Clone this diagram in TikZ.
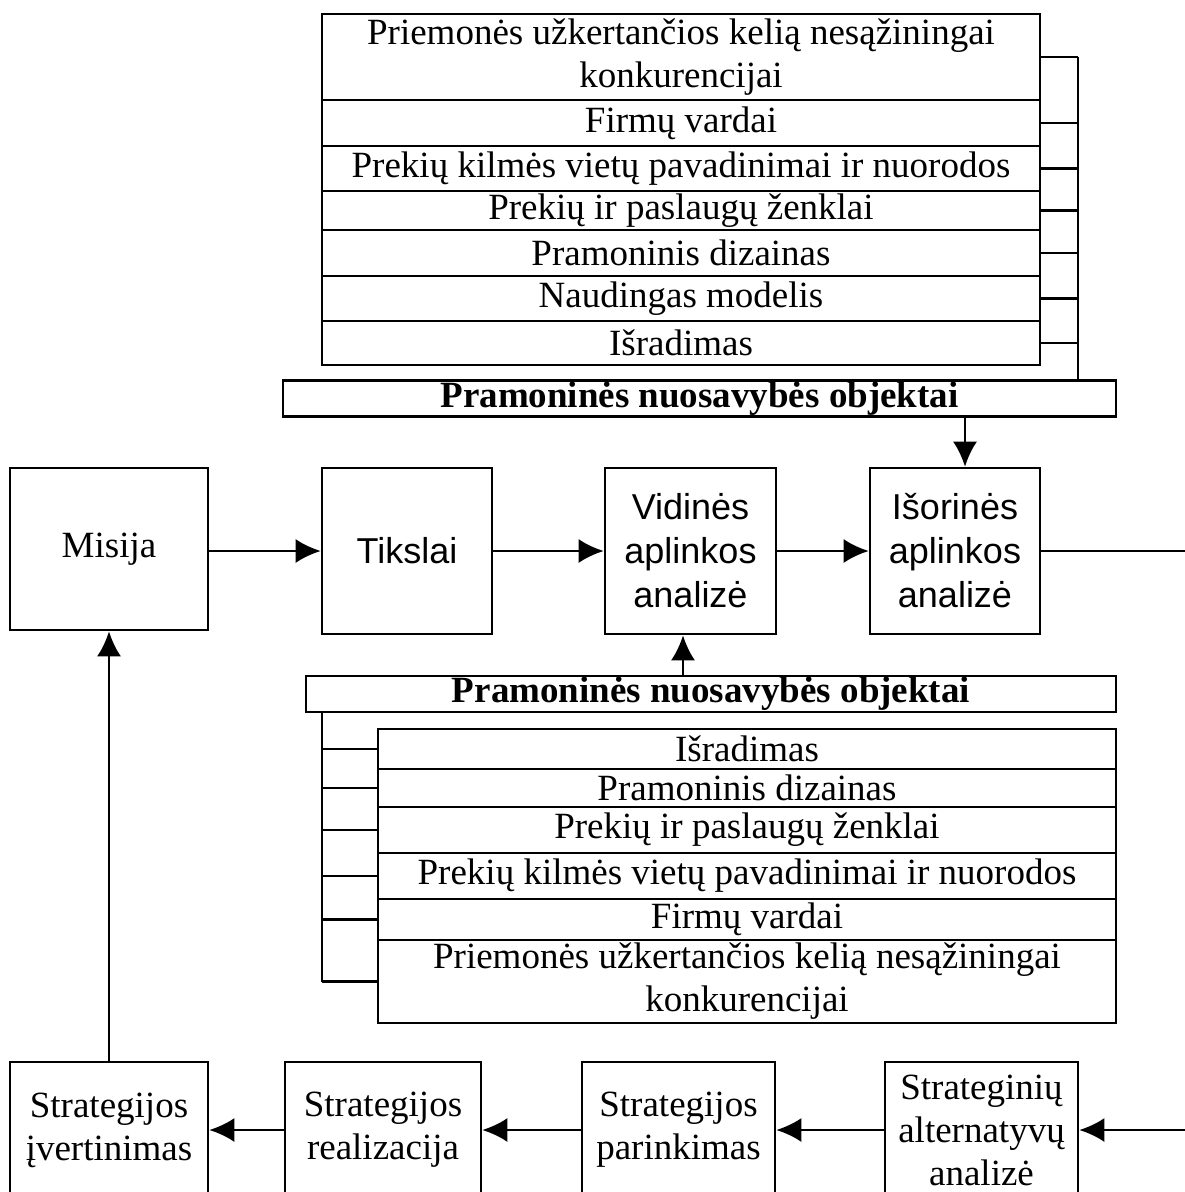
\documentclass[tikz,border=0pt]{standalone}
\usepackage{fontspec}
\setmainfont{Liberation Serif}
\setsansfont{Liberation Sans}
\usetikzlibrary{arrows.meta}

\begin{document}
\begin{tikzpicture}[x=1pt,y=-1pt,line width=2.6pt,
  arr/.style={-{Latex[length=25pt,width=24pt]}},
  cell/.style={draw,inner sep=0pt,minimum height=#1,align=center,
    font=\fontsize{37}{43}\selectfont},
  topcell/.style={cell=#1,minimum width=718pt},
  botcell/.style={cell=#1,minimum width=738pt},
  hdr/.style={draw,inner sep=0pt,minimum height=36pt,
    font=\fontsize{37}{43}\selectfont\bfseries},
  box/.style={draw,inner sep=0pt,align=center,
    font=\fontsize{37}{43}\selectfont},
  sbox/.style={box,font=\fontsize{36}{44}\selectfont\sffamily}]
\useasboundingbox (0,0) rectangle (1185,1192);
\clip (0,0) rectangle (1185,1192);

% upper list
\node[topcell=86pt] (t1) at (681,57) {Priemonės užkertančios kelią nesąžiningai\\konkurencijai};
\node[topcell=46pt] (t2) at (681,123) {Firmų vardai};
\node[topcell=45pt] (t3) at (681,168.5) {Prekių kilmės vietų pavadinimai ir nuorodos};
\node[topcell=39pt] (t4) at (681,210.5) {Prekių ir paslaugų ženklai};
\node[topcell=46pt] (t5) at (681,253) {Pramoninis dizainas};
\node[topcell=45pt] (t6) at (681,298.5) {Naudingas modelis};
\node[topcell=44pt] (t7) at (681,343) {Išradimas};
\node[hdr,minimum width=833pt] (hdr1) at (699.5,398.5) {Pramoninės nuosavybės objektai};

\coordinate (rb) at (1078,0);
\foreach \r in {t1,t2,t3,t4,t5,t6,t7}
  \draw (\r.east) -- (\r.east -| rb);
\draw (t1.east -| rb) -- (hdr1.north -| rb);

% middle row
\node[box,minimum width=198pt,minimum height=162pt] (Mis) at (109,549) {Misija};
\node[sbox,minimum width=170pt,minimum height=166pt] (Tiks) at (407,551) {Tikslai};
\node[sbox,minimum width=171pt,minimum height=166pt] (Vid) at (690.5,551) {Vidinės\\aplinkos\\analizė};
\node[sbox,minimum width=170pt,minimum height=166pt] (Isor) at (955,551) {Išorinės\\aplinkos\\analizė};

\draw[arr] (Mis.east |- Tiks.west) -- (Tiks.west);
\draw[arr] (Tiks.east) -- (Vid.west);
\draw[arr] (Vid.east) -- (Isor.west);
\coordinate (re1) at (1195,551);
\draw (Isor.east) -- (re1);

\coordinate (ax1) at (965,0);
\draw[arr] (hdr1.south -| ax1) -- (Isor.north -| ax1);

% lower list
\node[hdr,minimum width=810pt] (hdr2) at (711,694) {Pramoninės nuosavybės objektai};
\node[botcell=40pt] (b1) at (747,749) {Išradimas};
\node[botcell=38pt] (b2) at (747,788) {Pramoninis dizainas};
\node[botcell=46pt] (b3) at (747,830) {Prekių ir paslaugų ženklai};
\node[botcell=46pt] (b4) at (747,876) {Prekių kilmės vietų pavadinimai ir nuorodos};
\node[botcell=41pt] (b5) at (747,919.5) {Firmų vardai};
\node[botcell=83pt] (b6) at (747,981.5) {Priemonės užkertančios kelią nesąžiningai\\konkurencijai};

\coordinate (lb) at (322,0);
\foreach \r in {b1,b2,b3,b4,b5,b6}
  \draw (\r.west) -- (\r.west -| lb);
\draw (hdr2.south -| lb) -- (b6.west -| lb);

\coordinate (ax2) at (683,0);
\draw[arr] (hdr2.north -| ax2) -- (Vid.south -| ax2);

% bottom row
\node[box,minimum width=198pt,minimum height=136pt] (Iver) at (109,1130) {Strategijos\\įvertinimas};
\node[box,minimum width=196pt,minimum height=136pt] (Real) at (383,1130) {Strategijos\\realizacija};
\node[box,minimum width=193pt,minimum height=136pt] (Par) at (678.5,1130) {Strategijos\\parinkimas};
\node[box,minimum width=193pt,minimum height=136pt] (Alt) at (981.5,1130) {Strateginių\\alternatyvų\\analizė};

\coordinate (re2) at (1195,1130);
\draw[arr] (re2) -- (Alt.east);
\draw[arr] (Alt.west) -- (Par.east);
\draw[arr] (Par.west) -- (Real.east);
\draw[arr] (Real.west) -- (Iver.east);
\draw[arr] (Iver.north) -- (Mis.south);
\end{tikzpicture}
\end{document}
